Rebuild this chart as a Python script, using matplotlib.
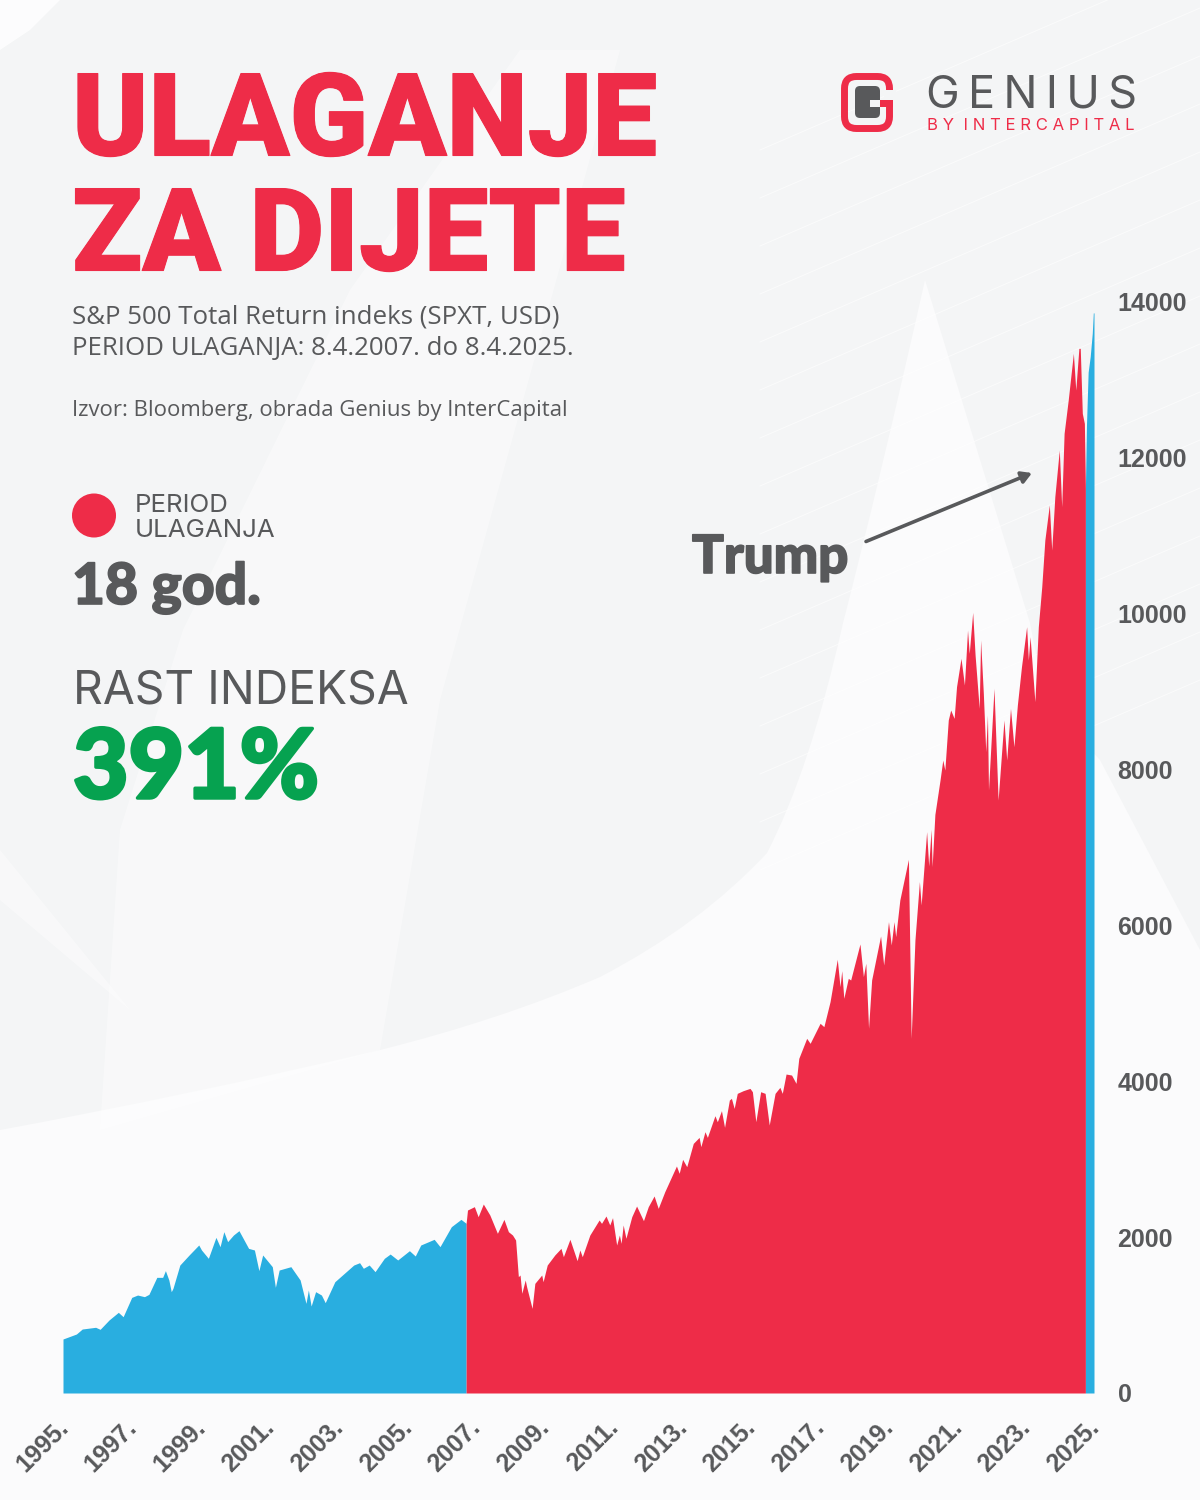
import matplotlib
matplotlib.use('Agg')
import matplotlib.pyplot as plt
import matplotlib.patheffects as pe
from matplotlib.patches import Circle, FancyBboxPatch, PathPatch, Polygon, Rectangle
from matplotlib.path import Path
from matplotlib.transforms import ScaledTranslation

# index values (year, level)
years_before = [1995.0, 1995.39, 1995.56, 1995.95, 1996.08, 1996.34, 1996.61, 1996.75, 1997.0, 1997.17,
                1997.37, 1997.5, 1997.73, 1997.9, 1997.98, 1998.08, 1998.15, 1998.2, 1998.4, 1998.67,
                1998.95, 1999.03, 1999.23, 1999.45, 1999.57, 1999.68, 1999.79, 1999.96, 2000.12, 2000.4,
                2000.57, 2000.7, 2000.81, 2001.09, 2001.18, 2001.29, 2001.63, 2001.9, 2002.07, 2002.14,
                2002.22, 2002.35, 2002.52, 2002.63, 2002.91, 2003.46, 2003.63, 2003.74, 2003.91, 2004.08,
                2004.35, 2004.52, 2004.74, 2005.08, 2005.25, 2005.41, 2005.8, 2005.97, 2006.3, 2006.58,
                2006.73]
index_before = [693, 757, 821, 843, 817, 937, 1035, 979, 1227, 1257,
                1236, 1266, 1484, 1484, 1570, 1450, 1300, 1343, 1642, 1771,
                1899, 1835, 1728, 1997, 1877, 2070, 1942, 2027, 2083, 1856,
                1835, 1570, 1771, 1621, 1356, 1578, 1621, 1450, 1150, 1322,
                1116, 1300, 1257, 1159, 1428, 1642, 1672, 1600, 1642, 1557,
                1728, 1783, 1707, 1826, 1758, 1899, 1972, 1878, 2134, 2228,
                2177]

years_period = [2006.73, 2006.77, 2006.97, 2007.08, 2007.23, 2007.42, 2007.64, 2007.83, 2007.96, 2008.08,
                2008.17, 2008.25, 2008.30, 2008.35, 2008.45, 2008.49, 2008.65, 2008.73, 2008.93, 2008.97,
                2009.09, 2009.31, 2009.49, 2009.56, 2009.75, 2009.96, 2010.04, 2010.11, 2010.33, 2010.6,
                2010.67, 2010.80, 2010.91, 2010.99, 2011.11, 2011.19, 2011.24, 2011.3, 2011.38, 2011.55,
                2011.69, 2011.89, 2012.03, 2012.2, 2012.32, 2012.51, 2012.85, 2012.93, 2013.03, 2013.15,
                2013.34, 2013.51, 2013.56, 2013.68, 2013.75, 2013.97, 2014.04, 2014.16, 2014.25, 2014.39,
                2014.45, 2014.53, 2014.62, 2014.79, 2014.99, 2015.06, 2015.16, 2015.3, 2015.43, 2015.55,
                2015.72, 2015.86, 2015.93, 2016.04, 2016.2, 2016.33, 2016.41, 2016.64, 2016.74, 2017.03,
                2017.14, 2017.32, 2017.53, 2017.61, 2017.66, 2017.72, 2017.85, 2017.92, 2018.19, 2018.29,
                2018.36, 2018.44, 2018.53, 2018.79, 2018.88, 2019.02, 2019.1, 2019.18, 2019.23, 2019.35,
                2019.6, 2019.68, 2019.79, 2019.92, 2019.97, 2020.13, 2020.19, 2020.26, 2020.29, 2020.37,
                2020.52, 2020.6, 2020.66, 2020.76, 2020.83, 2020.93, 2021.0, 2021.13, 2021.23, 2021.32,
                2021.37, 2021.47, 2021.54, 2021.66, 2021.7, 2021.78, 2021.85, 2021.9, 2021.93, 2022.09,
                2022.21, 2022.38, 2022.46, 2022.57, 2022.67, 2022.77, 2022.89, 2023.04, 2023.09, 2023.14,
                2023.28, 2023.38, 2023.48, 2023.57, 2023.7, 2023.77, 2023.86, 2023.99, 2024.06, 2024.13,
                2024.25, 2024.4, 2024.47, 2024.56, 2024.6, 2024.66, 2024.72, 2024.75]
index_period = [2177, 2348, 2391, 2262, 2425, 2284, 2049, 2228, 2070, 2027,
                1963, 1493, 1514, 1279, 1450, 1364, 1086, 1407, 1514, 1428,
                1642, 1771, 1856, 1749, 1972, 1698, 1835, 1749, 2027, 2220,
                2177, 2271, 2156, 2250, 1899, 2027, 1920, 2156, 1985, 2262,
                2399, 2211, 2391, 2528, 2369, 2583, 2913, 2819, 2998, 2904,
                3203, 3280, 3161, 3353, 3280, 3558, 3481, 3623, 3409, 3759,
                3781, 3652, 3845, 3879, 3909, 3866, 3481, 3866, 3845, 3439,
                3845, 3922, 3845, 4093, 4080, 3973, 4294, 4551, 4487, 4744,
                4701, 5022, 5565, 5214, 5419, 5065, 5321, 5300, 5762, 5343,
                5514, 4680, 5300, 5864, 5492, 6048, 5749, 6048, 5856, 6326,
                6848, 4551, 5813, 6562, 6262, 7203, 6763, 7233, 6754, 7424,
                7866, 8122, 7994, 8636, 8764, 8657, 9063, 9427, 9085, 9790,
                9491, 10017, 9470, 8785, 9662, 8978, 8229, 8700, 7738, 9042,
                7609, 8636, 8122, 8785, 8293, 8828, 9320, 9833, 9405, 9705,
                8871, 9833, 10347, 10946, 11395, 10817, 11501, 12100, 11373, 12314,
                12742, 13341, 12870, 13405, 13405, 12570, 12442, 11600]

years_after = [2024.75, 2024.78, 2024.83, 2024.89, 2024.95, 2024.98, 2025.0]
index_after = [11600, 12400, 13100, 13300, 13600, 13860, 13860]

year_ticks = list(range(1995, 2026, 2))
value_ticks = [0, 2000, 4000, 6000, 8000, 10000, 12000, 14000]

RED = '#ee2c48'
BLUE = '#29aee0'
GREY = '#58595b'
GREEN = '#06a250'
PAGE = '#f4f5f6'

plt.rcParams['font.family'] = ['Roboto', 'DejaVu Sans']

fig = plt.figure(figsize=(12, 15), dpi=100, facecolor=PAGE)

# full page axes in pixels, everything around the chart goes here
bg = fig.add_axes([0, 0, 1, 1], zorder=0)
bg.set_xlim(0, 1200)
bg.set_ylim(1500, 0)
bg.axis('off')

# soft background shapes
lobe = Path([(0, 1130), (190, 1095), (380, 1050), (500, 1020), (600, 977), (700, 925), (767, 853),
             (810, 770), (843, 623), (880, 480), (925, 280),
             (1030, 623), (1045, 700), (1100, 760), (1200, 950), (1200, 1500), (0, 1500), (0, 1130)],
            [Path.MOVETO, Path.CURVE3, Path.CURVE3, Path.CURVE3, Path.CURVE3, Path.CURVE3, Path.CURVE3,
             Path.CURVE3, Path.CURVE3, Path.CURVE3, Path.CURVE3,
             Path.LINETO, Path.LINETO, Path.LINETO, Path.LINETO, Path.LINETO, Path.LINETO, Path.CLOSEPOLY])
bg.add_patch(PathPatch(lobe, facecolor='#fbfbfc', edgecolor='none', zorder=1))
bg.add_patch(Polygon([(520, 50), (620, 50), (440, 700), (380, 1050), (100, 1130), (120, 830), (183, 630), (350, 290)],
                     facecolor='white', edgecolor='none', alpha=0.4, zorder=1))
bg.add_patch(Polygon([(0, 0), (60, 0), (30, 30), (0, 50)], facecolor='white', edgecolor='none', alpha=0.8, zorder=1))
bg.add_patch(Polygon([(0, 850), (130, 1010), (0, 900)], facecolor='white', edgecolor='none', alpha=0.4, zorder=1))

# thin white lines in the top right
for i in range(16):
    bg.plot([760, 1200], [150 + i * 48, 150 + i * 48 - 190], color='white', lw=0.7, alpha=0.6, zorder=1.5)

# title
heavy = [pe.withStroke(linewidth=0.8, foreground=RED)]
bg.text(72, 155.5, 'ULAGANJE', color=RED, fontsize=83, fontweight=900, va='baseline', ha='left', path_effects=heavy)
bg.text(72, 270.5, 'ZA DIJETE', color=RED, fontsize=83, fontweight=900, va='baseline', ha='left', path_effects=heavy)

# subtitle and source
bg.text(72, 323, 'S&P 500 Total Return indeks (SPXT, USD)', color=GREY, fontsize=18.6,
        family=['Open Sans', 'DejaVu Sans'], va='baseline')
bg.text(72, 355, 'PERIOD ULAGANJA: 8.4.2007. do 8.4.2025.', color=GREY, fontsize=18.6,
        family=['Open Sans', 'DejaVu Sans'], va='baseline')
bg.text(72, 416, 'Izvor: Bloomberg, obrada Genius by InterCapital', color=GREY, fontsize=15.9,
        family=['Open Sans', 'DejaVu Sans'], va='baseline')

# side stats
bg.add_patch(Circle((94, 515.5), 22, facecolor=RED, edgecolor='none', zorder=3))
bg.text(135, 512, 'PERIOD', color=GREY, fontsize=18.6, family=['Inter', 'DejaVu Sans'], va='baseline')
bg.text(135, 537, 'ULAGANJA', color=GREY, fontsize=18.6, family=['Inter', 'DejaVu Sans'], va='baseline')
bg.text(72, 604, '18 god.', color=GREY, fontsize=41, fontweight=900, family=['Lato', 'DejaVu Sans'], va='baseline',
        path_effects=[pe.withStroke(linewidth=1.2, foreground=GREY)])
bg.text(73, 704, 'RAST INDEKSA', color=GREY, fontsize=33.3, family=['Inter', 'DejaVu Sans'], va='baseline')
bg.text(73, 798, '391%', color=GREEN, fontsize=69, fontweight=900, family=['Lato', 'DejaVu Sans'], va='baseline',
        path_effects=[pe.withStroke(linewidth=2.5, foreground=GREEN)])

# annotation
bg.text(692, 573, 'Trump', color=GREY, fontsize=38, fontweight=900, family=['Lato', 'DejaVu Sans'], va='baseline',
        path_effects=[pe.withStroke(linewidth=1.2, foreground=GREY)])
bg.annotate('', xy=(1032, 473), xytext=(866, 541.5),
            arrowprops=dict(arrowstyle='-|>,head_length=0.6,head_width=0.35', color=GREY, lw=2.6,
                            shrinkA=0, shrinkB=0), zorder=4)

# logo
bg.add_patch(FancyBboxPatch((844.5, 76.5), 45, 52, boxstyle='round,pad=0,rounding_size=12',
                            facecolor='none', edgecolor=RED, lw=5, zorder=3))
bg.add_patch(Rectangle((884, 90), 12, 10, facecolor=PAGE, edgecolor='none', zorder=3.1))
bg.add_patch(Rectangle((880, 100), 13, 7, facecolor=RED, edgecolor='none', zorder=3.3))
bg.add_patch(FancyBboxPatch((855, 86), 25, 32, boxstyle='round,pad=0,rounding_size=5',
                            facecolor=GREY, edgecolor='none', zorder=3.2))
bg.add_patch(Rectangle((870, 100), 10, 7, facecolor=PAGE, edgecolor='none', zorder=3.25))
bg.text(926, 108, 'G\u2009E\u2009N\u2009I\u2009U\u2009S', color=GREY, fontsize=32.5,
        family=['Inter', 'DejaVu Sans'], va='baseline')
bg.text(927, 130, 'B Y  I N T E R C A P I T A L', color=RED, fontsize=12,
        family=['Inter', 'DejaVu Sans'], va='baseline')

# the chart itself
ax = fig.add_axes([63 / 1200, (1500 - 1393) / 1500, (1094 - 63) / 1200, (1393 - 302) / 1500], zorder=1)
ax.patch.set_alpha(0)
ax.fill_between(years_before, index_before, 0, color=BLUE, lw=0)
ax.fill_between(years_period, index_period, 0, color=RED, lw=0)
ax.fill_between(years_after, index_after, 0, color=BLUE, lw=0)
ax.set_xlim(1995, 2025)
ax.set_ylim(0, 14000)
for s in ax.spines.values():
    s.set_visible(False)

ax.yaxis.tick_right()
ax.set_yticks(value_ticks)
ax.set_yticklabels([str(v) for v in value_ticks], family=['Liberation Sans', 'DejaVu Sans'],
                   fontweight='bold', fontsize=18, color=GREY, ha='left')
ax.tick_params(axis='y', length=0, pad=17)
ax.set_xticks(year_ticks)
ax.set_xticklabels([f'{y}.' for y in year_ticks], family=['Liberation Sans', 'DejaVu Sans'],
                   fontweight='bold', fontsize=18, color=GREY, rotation=45, ha='right', va='top',
                   rotation_mode='anchor')
ax.tick_params(axis='x', length=0, pad=16)
shift = ScaledTranslation(-7 / 100, 0, fig.dpi_scale_trans)
for lab in ax.get_xticklabels():
    lab.set_transform(lab.get_transform() + shift)

fig.savefig('out.png', dpi=100, facecolor=fig.get_facecolor())
